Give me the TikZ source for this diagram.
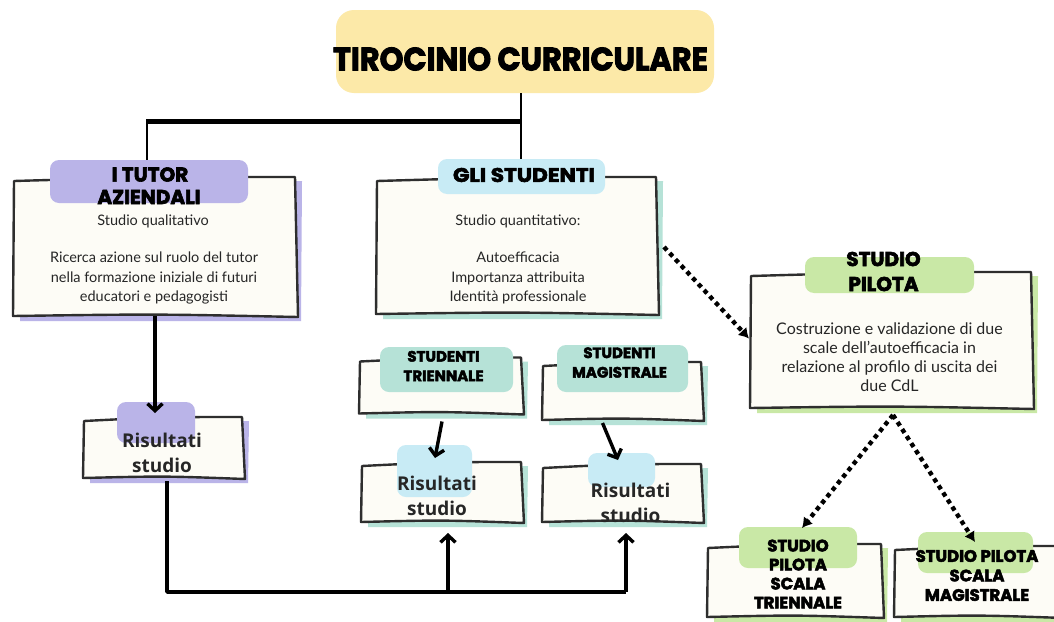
\documentclass[tikz,border=0pt]{standalone}
\usepackage{fontspec}
\usepackage{graphicx}
\setmainfont{Lato}
\newfontfamily\heavy{Poppins}[BoldFeatures={FakeBold=3}]
\newfontfamily\opensans{Open Sans}
\usetikzlibrary{arrows.meta,calc}

\definecolor{ink}{HTML}{2E2E2E}
\definecolor{bodyink}{HTML}{262626}
\definecolor{cream}{HTML}{FDFCF6}
\definecolor{sun}{HTML}{FCE9A8}
\definecolor{lilac}{HTML}{BAB4E8}
\definecolor{sky}{HTML}{C8EBF5}
\definecolor{mint}{HTML}{B6E2D7}
\definecolor{leaf}{HTML}{C9E8A6}

% hand-drawn box: name, centre, width, height, shadow colour
\newcommand\skbox[5]{%
  \node[minimum width=#3, minimum height=#4, inner sep=0pt, outer sep=0pt] (#1) at (#2) {};
  \fill[#5] ($(#1.north west)+(6,4)$) -- ($(#1.north east)+(6,3)$)
     -- ($(#1.south east)+(5,5)$) -- ($(#1.south west)+(6,5)$) -- cycle;
  \draw[outline] ($(#1.north west)+(0,3)$)
     .. controls ($(#1.north)+(0,-1)$) .. ($(#1.north east)+(-1,-1)$)
     -- ($(#1.south east)+(2,1)$)
     .. controls ($(#1.south)+(0,-2)$) .. ($(#1.south west)+(-1,0)$) -- cycle;
}

\begin{document}
\begin{tikzpicture}[x=1pt,y=-1pt,
  outline/.style={draw=ink, line width=2.4pt, fill=cream, line join=round},
  blob/.style={rounded corners=9pt, inner sep=0pt, outer sep=0pt, draw=none},
  hd/.style={inner sep=0pt, outer sep=0pt, text=black},
  body/.style={font=\fontsize{14.5}{19.3}\selectfont, align=center, text=bodyink, inner sep=0pt},
  res/.style={font=\opensans\bfseries\fontsize{19}{25}\selectfont, align=center, text=bodyink, inner sep=0pt},
  link/.style={line width=3.4pt, draw=black},
  arr/.style={link, -{Straight Barb[length=7pt,width=15pt]}},
  dots/.style={line width=4.4pt, draw=black, dash pattern=on 4.4pt off 4pt,
     -{Latex[length=10pt,width=12pt]}}
]
\useasboundingbox[fill=white] (0,0) rectangle (1054,621);

% ---------- title ----------
\node[blob, fill=sun, rounded corners=18pt, minimum width=378, minimum height=83] (title) at (525,51.5) {};
\node[hd] (titletext) at (520.5,59) {\resizebox{375pt}{23pt}{\heavy\bfseries TIROCINIO CURRICULARE}};

% ---------- tutor column ----------
\skbox{tut}{155,247}{282}{138}{lilac}
\node[blob, fill=lilac, minimum width=198, minimum height=43] (tutlab) at (149,181.5) {};
\node[hd, font=\heavy\bfseries\fontsize{20}{20}\selectfont] (tuta) at (150,174.5) {I TUTOR};
\node[hd, font=\heavy\bfseries\fontsize{20}{20}\selectfont] (tutb) at (149,197) {AZIENDALI};
\node[body] (tutq) at (153,221) {Studio qualitativo};
\node[body] (tutt) at (154,278) {Ricerca azione sul ruolo del tutor\\nella formazione iniziale di futuri\\educatori e pedagogisti};

\skbox{rt}{163.5,448}{159}{60}{lilac}
\node[blob, fill=lilac, minimum width=78, minimum height=41] (rtlab) at (156,422.5) {};
\node[res] (rttext) at (162,453) {Risultati\\studio};

% ---------- students column ----------
\skbox{stu}{517,246}{280}{136}{mint}
\node[blob, fill=sky, minimum width=167, minimum height=35] (stulab) at (521.5,176.5) {};
\node[hd] (stutext) at (524,175) {\resizebox{142pt}{14pt}{\heavy\bfseries GLI STUDENTI}};
\node[body] (stuq) at (518,221) {Studio quantitativo:};
\node[body] (stul) at (518,278) {Autoefficacia\\Importanza attribuita\\Identità professionale};

\skbox{s3}{441,386}{162}{55}{mint}
\node[blob, fill=mint, minimum width=133, minimum height=45] (s3lab) at (446.5,369.5) {};
\node[hd, font=\heavy\bfseries\fontsize{15}{19.5}\selectfont, align=center] (s3text) at (443.5,366) {STUDENTI\\TRIENNALE};

\skbox{sm}{622.5,391.5}{159}{57}{mint}
\node[blob, fill=mint, minimum width=131, minimum height=47] (smlab) at (622.5,368.5) {};
\node[hd, font=\heavy\bfseries\fontsize{15}{19.5}\selectfont, align=center] (smtext) at (619.5,362.5) {STUDENTI\\MAGISTRALE};

\skbox{r3}{442,492.5}{160}{59}{mint}
\node[blob, fill=sky, minimum width=75, minimum height=52] (r3lab) at (434.5,471) {};
\node[res] (r3text) at (437,496) {Risultati\\studio};

\skbox{rm}{622.5,493.5}{159}{57}{mint}
\node[blob, fill=sky, minimum width=67, minimum height=34] (rmlab) at (621.5,470) {};
\node[res] (rmtext) at (630.5,503) {Risultati\\studio};

% ---------- pilot study ----------
\skbox{pil}{891.5,340.5}{281}{135}{leaf}
\node[blob, fill=leaf, minimum width=169, minimum height=36] (pillab) at (889.5,275) {};
\node[hd, font=\heavy\bfseries\fontsize{20}{25}\selectfont, align=center] (piltext) at (883.5,271.5) {STUDIO\\PILOTA};
\node[body, font=\fontsize{16}{18.8}\selectfont] (piltxt) at (889.5,357) {Costruzione e validazione di due\\scale dell’autoefficacia in\\relazione al profilo di uscita dei\\due CdL};

\skbox{pt}{795,581}{174}{72}{leaf}
\node[blob, fill=leaf, minimum width=118, minimum height=41] (ptlab) at (798,547.5) {};
\node[hd, font=\heavy\bfseries\fontsize{16.5}{19}\selectfont, align=center] (pttext) at (798,574) {STUDIO\\PILOTA\\SCALA\\TRIENNALE};

\skbox{pm}{978.5,582}{167}{70}{leaf}
\node[blob, fill=leaf, minimum width=115, minimum height=41] (pmlab) at (975.5,552.5) {};
\node[hd, font=\heavy\bfseries\fontsize{16.5}{19.5}\selectfont, align=center] (pmtext) at (977,575.5) {STUDIO PILOTA\\SCALA\\MAGISTRALE};

% ---------- connectors ----------
\coordinate (jL) at (147,121);
\coordinate (jR) at (521,121);
\draw[link, line width=2.6pt] (title.south -| jR) -- (jR);
\draw[line width=5pt] ([xshift=-1pt]jL) -- ([xshift=1pt]jR);
\draw[link, line width=2.6pt] (jL) -- (jL |- tutlab.north);
\draw[link, line width=2.6pt] (jR) -- (jR |- stulab.north);

\draw[arr] (tut.south) -- ([yshift=5pt]tut.south |- rt.north);
\draw[arr] ([xshift=1pt,yshift=-8pt]s3.south) -- ([xshift=-7pt,yshift=5pt]r3.north);
\draw[arr] ([xshift=-20pt,yshift=-3pt]sm.south) -- ([xshift=-4.5pt,yshift=5pt]rm.north);

\coordinate (jB) at (448,592);
\coordinate (jC) at (626,592);
\draw[link, line join=round] ([xshift=3.5pt,yshift=-3pt]rt.south) |- (jC);
\draw[arr] (jB) -- ([xshift=6pt,yshift=-11pt]r3.south);
\draw[arr] (jC) -- ([xshift=3.5pt,yshift=-11pt]rm.south);

\draw[dots] ([xshift=7pt,yshift=-1pt]stu.east) -- ([xshift=-2pt,yshift=2pt]pil.west);
\draw[dots] ([xshift=1.5pt,yshift=-7pt]pil.south) -- ([xshift=7pt,yshift=17pt]pt.north);
\draw[dots] ([xshift=1.5pt,yshift=-7pt]pil.south) -- ([xshift=-3.5pt,yshift=5pt]pm.north);
\end{tikzpicture}
\end{document}
